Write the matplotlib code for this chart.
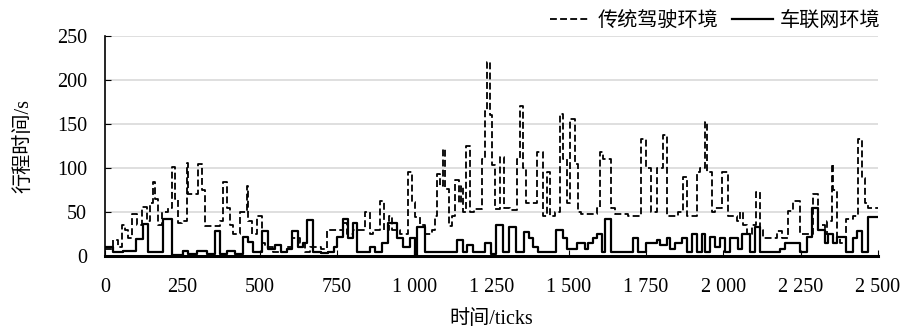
import matplotlib
matplotlib.use("Agg")
import matplotlib.pyplot as plt
from matplotlib.lines import Line2D

plt.rcParams['font.family'] = ['Liberation Serif', 'Noto Sans CJK SC']

# 传统驾驶环境 (dashed): change-point ticks and travel-time values
trad_ticks = [0, 27, 43, 54, 65, 75, 86, 102, 119, 135, 145, 156, 162, 172, 183, 205, 216, 226, 237, 248,
              264, 269, 302, 313, 323, 372, 383, 394, 404, 415, 437, 458, 464, 474, 491, 507, 518, 544, 588,
              604, 631, 647, 663, 700, 717, 750, 771, 782, 803, 841, 857, 868, 890, 901, 917, 927, 954, 981,
              992, 1003, 1019, 1035, 1057, 1068, 1073, 1084, 1092, 1100, 1111, 1121, 1132, 1145, 1150, 1159,
              1168, 1181, 1192, 1218, 1229, 1235, 1245, 1251, 1262, 1278, 1289, 1309, 1331, 1342, 1352, 1363,
              1396, 1417, 1430, 1440, 1455, 1471, 1482, 1493, 1503, 1520, 1530, 1541, 1590, 1600, 1611, 1638,
              1649, 1692, 1735, 1751, 1767, 1784, 1805, 1816, 1854, 1870, 1881, 1913, 1924, 1940, 1946, 1962,
              1973, 1994, 2016, 2043, 2053, 2064, 2075, 2091, 2107, 2118, 2129, 2172, 2188, 2210, 2226, 2247,
              2291, 2307, 2328, 2334, 2350, 2355, 2366, 2377, 2398, 2420, 2436, 2447, 2458, 2468]
trad_vals = [8, 18, 10, 35, 30, 20, 48, 35, 56, 40, 60, 84, 65, 35, 50, 55, 101, 65, 37, 40,
             106, 70, 105, 75, 34, 40, 84, 55, 35, 25, 50, 80, 40, 25, 46, 15, 10, 5, 10,
             20, 15, 5, 10, 8, 29, 30, 38, 25, 30, 50, 25, 30, 63, 30, 45, 30, 25, 95,
             61, 44, 35, 25, 30, 45, 93, 80, 122, 76, 34, 45, 86, 60, 80, 50,
             125, 50, 53, 110, 165, 220, 160, 103, 53, 112, 55, 52, 110, 171, 100, 60,
             118, 45, 95, 45, 50, 161, 110, 60, 156, 105, 50, 48, 55, 118, 110, 55,
             48, 45, 133, 100, 50, 100, 137, 45, 50, 90, 45, 95, 100, 152, 95, 50,
             55, 95, 45, 40, 50, 35, 25, 35, 73, 30, 21, 28, 20, 51, 63, 25,
             70, 35, 25, 40, 105, 75, 20, 15, 42, 45, 133, 89, 60, 55]

# 车联网环境 (solid)
iov_ticks = [0, 25, 59, 100, 122, 140, 189, 216, 253, 270, 296, 329, 356, 372, 394, 420, 447, 464, 480, 507,
             528, 550, 570, 590, 604, 625, 640, 652, 674, 700, 720, 740, 749, 771, 787, 803, 814, 857, 873,
             895, 916, 943, 965, 986, 1003, 1008, 1035, 1137, 1159, 1170, 1191, 1229, 1250, 1266, 1286, 1307,
             1329, 1355, 1372, 1383, 1400, 1460, 1482, 1493, 1525, 1552, 1563, 1579, 1590, 1606, 1617, 1638,
             1708, 1724, 1751, 1784, 1795, 1816, 1827, 1843, 1865, 1881, 1897, 1913, 1930, 1940, 1956, 1973,
             1989, 2005, 2021, 2048, 2059, 2086, 2102, 2118, 2183, 2199, 2247, 2269, 2285, 2307, 2328, 2339,
             2355, 2366, 2398, 2420, 2431, 2447, 2468]
iov_vals = [10.6, 5, 6, 19, 36, 5, 42, 1, 6, 2, 6, 2, 28, 2, 6, 2, 22, 16, 4, 28,
            8, 12, 4, 8, 28, 10, 15, 41, 5, 3, 5, 10, 22, 42, 20, 38, 5, 10, 5,
            15, 38, 20, 10, 21, 0, 33, 5, 18, 5, 13, 5, 15, 2, 35, 5, 33,
            5, 27, 20, 10, 5, 30, 20, 8, 15, 8, 15, 20, 25, 5, 42, 5,
            20, 5, 15, 18, 13, 20, 8, 15, 20, 5, 25, 5, 25, 5, 22, 10,
            20, 5, 20, 8, 25, 5, 33, 5, 8, 15, 5, 22, 55, 30, 15, 25,
            15, 22, 5, 20, 28, 5, 44]

x_end = 2500
x_ticks = [0, 250, 500, 750, 1000, 1250, 1500, 1750, 2000, 2250, 2500]
x_labels = ['0', '250', '500', '750', '1 000', '1 250', '1 500', '1 750', '2 000', '2 250', '2 500']
y_ticks = [0, 50, 100, 150, 200, 250]

fig = plt.figure(figsize=(9.02, 3.35), dpi=100)
ax = fig.add_axes([0.1164, 0.2358, 0.8570, 0.6567])

dash = (0, (3.8, 1.8))
ax.step(trad_ticks + [x_end], trad_vals + [trad_vals[-1]], where='post', color='black',
        lw=1.3, linestyle=dash, zorder=3)
ax.step(iov_ticks + [x_end], iov_vals + [iov_vals[-1]], where='post', color='black',
        lw=1.6, zorder=4)

ax.set_xlim(0, 2500)
ax.set_ylim(0, 250)
ax.set_xticks(x_ticks)
ax.set_xticklabels(x_labels)
ax.set_yticks(y_ticks)
ax.yaxis.grid(True, color='#d9d9d9', lw=1.2)
ax.set_axisbelow(True)
for s in ['top', 'right']:
    ax.spines[s].set_visible(False)
ax.spines['bottom'].set_linewidth(2.2)
ax.spines['left'].set_linewidth(1.2)
ax.tick_params(axis='both', direction='in', length=4, labelsize=14.5, width=0.8)
ax.tick_params(axis='y', pad=13)
ax.tick_params(axis='x', pad=16)

ax.set_xlabel('时间/ticks', fontsize=14.5, labelpad=9)
ax.set_ylabel('行程时间/s', fontsize=14.5, labelpad=16)

handles = [Line2D([], [], color='black', lw=1.3, linestyle=dash),
           Line2D([], [], color='black', lw=1.6)]
fig.legend(handles, ['传统驾驶环境', '车联网环境'], loc='upper right', bbox_to_anchor=(0.996, 1.02),
           ncol=2, frameon=False, fontsize=14.5, handlelength=2.0, handletextpad=0.35, columnspacing=0.7)

fig.savefig('out.png', dpi=100)
